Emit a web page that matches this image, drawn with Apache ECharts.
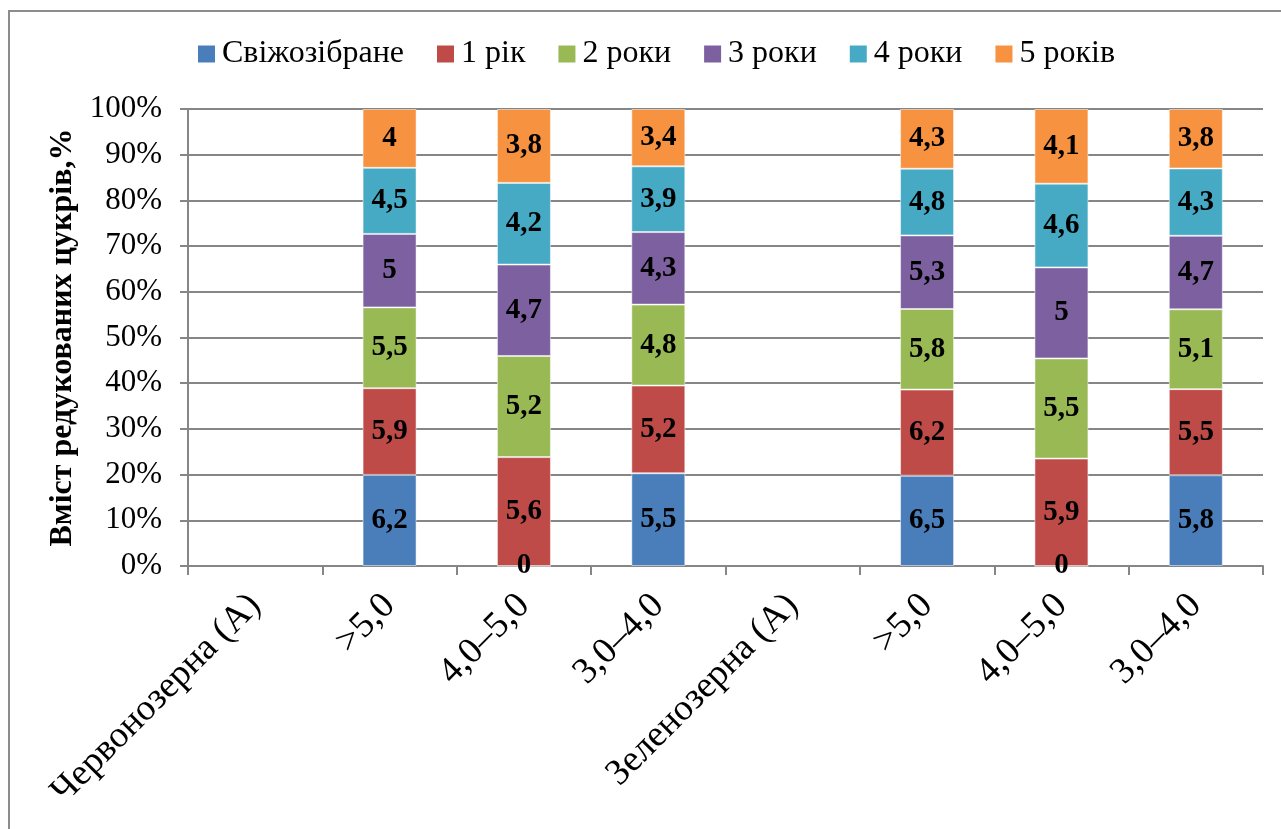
<!DOCTYPE html>
<html>
<head>
<meta charset="utf-8">
<style>
  html, body { margin: 0; padding: 0; background: #fff; }
  #frame { position: absolute; left: 8px; top: 10px; width: 1290px; height: 840px;
           border-left: 2px solid #8c8c8c; border-top: 2px solid #8c8c8c; box-sizing: border-box; }
  #chart { position: absolute; left: 0; top: 0; width: 1281px; height: 829px; }
</style>
<script src="https://cdn.jsdelivr.net/npm/echarts@6/dist/echarts.min.js"></script>
</head>
<body>
<div id="frame"></div>
<div id="chart"></div>
<script>
// Categories along the x axis
const categories = ['Червонозерна (А)', '>5,0', '4,0–5,0', '3,0–4,0',
                    'Зеленозерна (А)', '>5,0', '4,0–5,0', '3,0–4,0'];

// Storage-time series (null = no bar for that category)
const seriesNames = ['Свіжозібране', '1 рік', '2 роки', '3 роки', '4 роки', '5 років'];
const fresh  = [null, 6.2, 0,   5.5, null, 6.5, 0,   5.8];
const year1  = [null, 5.9, 5.6, 5.2, null, 6.2, 5.9, 5.5];
const years2 = [null, 5.5, 5.2, 4.8, null, 5.8, 5.5, 5.1];
const years3 = [null, 5.0, 4.7, 4.3, null, 5.3, 5.0, 4.7];
const years4 = [null, 4.5, 4.2, 3.9, null, 4.8, 4.6, 4.3];
const years5 = [null, 4.0, 3.8, 3.4, null, 4.3, 4.1, 3.8];

const yTickLabels = ['0%', '10%', '20%', '30%', '40%', '50%', '60%', '70%', '80%', '90%', '100%'];

const colors = ['#4A7EBB', '#BE4B48', '#98B954', '#7D60A0', '#46AAC5', '#F69240'];
const rawSeries = [fresh, year1, years2, years3, years4, years5];

// Column totals for the 100% stacking
const totals = categories.map((_, i) =>
  rawSeries.reduce((s, arr) => s + (arr[i] == null ? 0 : arr[i]), 0));

const serif = 'Liberation Serif';

const series = rawSeries.map((arr, k) => ({
  name: seriesNames[k],
  type: 'bar',
  stack: 'total',
  barWidth: 54,
  itemStyle: { color: colors[k], borderColor: 'rgba(255,255,255,0.5)', borderWidth: 1 },
  label: {
    show: true,
    position: 'inside',
    fontFamily: serif,
    fontWeight: 'bold',
    fontSize: 29,
    color: '#000',
    formatter: p => String(arr[p.dataIndex]).replace('.', ',')
  },
  data: arr.map((v, i) => v == null ? null : { value: v / totals[i] * 100 })
}));

const chart = echarts.init(document.getElementById('chart'));
chart.setOption({
  animation: false,
  color: colors,
  legend: {
    top: 33,
    left: 193,
    itemWidth: 17,
    itemHeight: 17,
    itemGap: 33,
    icon: 'rect',
    itemStyle: { borderWidth: 0 },
    textStyle: { fontFamily: serif, fontSize: 32, color: '#000', padding: [0, 0, 0, 2] },
    data: seriesNames
  },
  grid: { left: 188, right: 18, top: 109, bottom: 263 },
  xAxis: {
    type: 'category',
    data: categories,
    axisLine: { lineStyle: { color: '#868686', width: 2 } },
    axisTick: { show: true, length: 9, lineStyle: { color: '#868686', width: 2 } },
    axisLabel: {
      rotate: 45,
      interval: 0,
      margin: 34,
      fontFamily: serif,
      fontSize: 37,
      color: '#000'
    }
  },
  yAxis: {
    type: 'value',
    min: 0,
    max: 100,
    interval: 10,
    name: 'Вміст редукованих цукрів,%',
    nameLocation: 'middle',
    nameRotate: 90,
    nameGap: 106,
    nameTextStyle: { fontFamily: serif, fontWeight: 'bold', fontSize: 32, color: '#000' },
    axisLine: { show: true, lineStyle: { color: '#868686', width: 2 } },
    axisTick: { show: true, length: 8, lineStyle: { color: '#868686', width: 2 } },
    splitLine: { lineStyle: { color: '#868686', width: 2 } },
    axisLabel: {
      margin: 26,
      fontFamily: serif,
      fontSize: 31,
      color: '#000',
      formatter: v => yTickLabels[Math.round(v / 10)]
    }
  },
  series: series
});
</script>
</body>
</html>
